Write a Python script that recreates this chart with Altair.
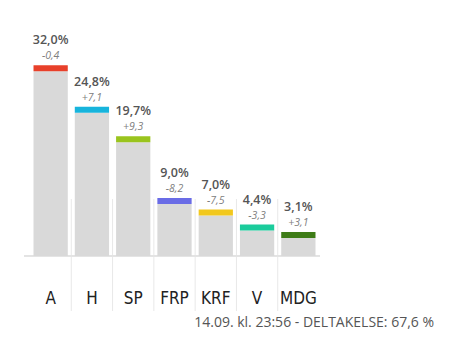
import altair as alt
import pandas as pd

parties = ["A", "H", "SP", "FRP", "KRF", "V", "MDG"]
values = [32.0, 24.8, 19.7, 9.0, 7.0, 4.4, 3.1]
changes = ["-0,4", "+7,1", "+9,3", "-8,2", "-7,5", "-3,3", "+3,1"]
colors = ["#e8402a", "#17b4dc", "#9ac41e", "#6a6ce6", "#f2c81d", "#1bcc9c", "#3e7c17"]
value_labels = [f"{v:.1f}".replace(".", ",") + "%" for v in values]
footer = "14.09. kl. 23:56 - DELTAKELSE: 67,6 %"

df = pd.DataFrame({
    "party": parties,
    "value": values,
    "change": changes,
    "label": value_labels,
    "color": colors,
})

cond_font = "'Liberation Sans Narrow', 'DejaVu Sans Condensed', 'Arial Narrow', sans-serif"

axis = alt.Axis(title=None, domain=False, ticks=False, tickSize=0, grid=False,
                labelPadding=47, labelBaseline="alphabetic", labelAngle=0,
                labelFont=cond_font, labelFontSize=17,
                labelColor="#222")
xscale = alt.Scale(paddingInner=0.17, paddingOuter=0.085)
x = alt.X("party:N", sort=parties, scale=xscale, axis=axis)
y = alt.Y("value:Q", scale=alt.Scale(domain=[0, 40]), axis=None)

base = alt.Chart(df)

sep = base.transform_filter("datum.party != 'A'").mark_rule(
    color="#e8e8e8", strokeWidth=1, xOffset=-3.5
).encode(
    x=alt.X("party:N", sort=parties, scale=xscale, axis=axis, bandPosition=0),
    y=alt.value(174), y2=alt.value(286)
)

baseline = base.mark_rule(color="#e3e3e3", strokeWidth=1).encode(
    x=alt.value(-6), x2=alt.value(290), y=alt.value(231)
)

bars = base.mark_bar(color="#d9d9d9").encode(x=x, y=y)

caps = base.mark_bar(yOffset=-6).encode(
    x=x, y=y, y2=alt.Y2("value:Q"),
    color=alt.Color("color:N", scale=None)
)

vtext = base.mark_text(dy=-27, baseline="alphabetic", font="Open Sans",
                       fontSize=12.5, fontWeight=600, color="#555").encode(
    x=x, y=y, text="label:N")

ctext = base.mark_text(dy=-12, baseline="alphabetic", font="Open Sans",
                       fontSize=10.5, fontStyle="italic", color="#808080").encode(
    x=x, y=y, text="change:N")

foot = alt.Chart(alt.Data(values=[{"t": footer}])).mark_text(
    align="right", baseline="alphabetic", font="Open Sans", fontSize=14,
    color="#555"
).encode(x=alt.value(404), y=alt.value(302), text="t:N")

chart = alt.layer(sep, baseline, bars, caps, vtext, ctext, foot).properties(
    width=289, height=231,
    padding={"left": 30, "top": 25, "right": 151, "bottom": 99},
    autosize="none", background="white"
).configure_view(stroke=None)

chart.save("out.html", embed_options={"renderer": "svg", "actions": False})
